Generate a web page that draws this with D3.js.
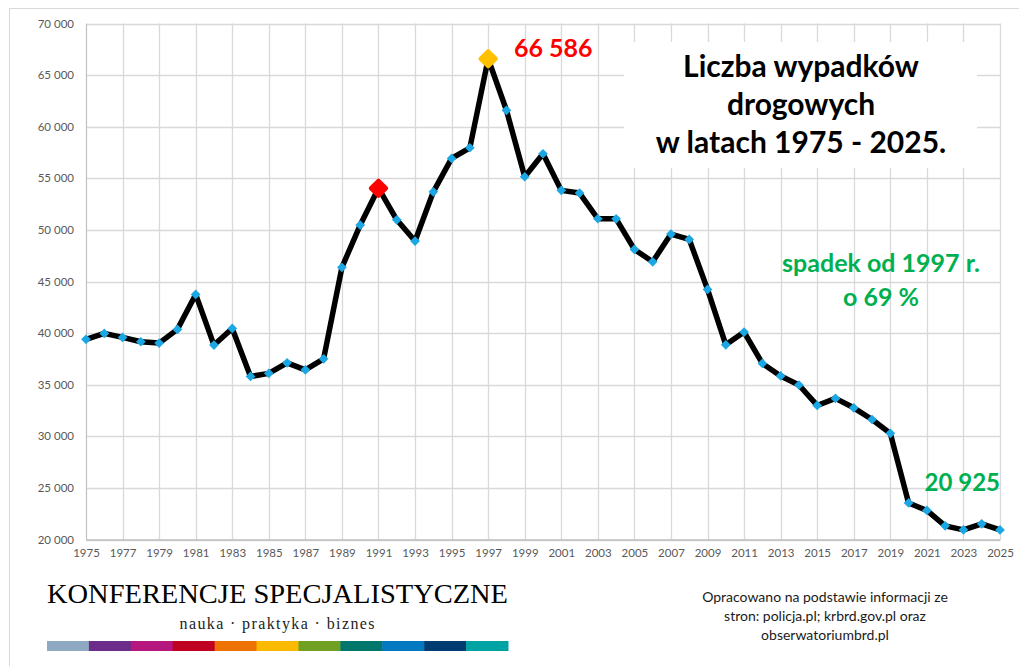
<!DOCTYPE html>
<html>
<head>
<meta charset="utf-8">
<script src="https://cdn.jsdelivr.net/npm/d3@7"></script>
<style>
  body { margin: 0; background: #fff; }
  svg { display: block; }
</style>
</head>
<body>
<div id="chart"></div>
<script>
// data
var years = [1975,1976,1977,1978,1979,1980,1981,1982,1983,1984,1985,1986,1987,1988,1989,1990,
  1991,1992,1993,1994,1995,1996,1997,1998,1999,2000,2001,2002,2003,2004,2005,2006,2007,2008,
  2009,2010,2011,2012,2013,2014,2015,2016,2017,2018,2019,2020,2021,2022,2023,2024,2025];
var accidents = [39400,39970,39580,39160,39030,40360,43750,38840,40450,35800,36100,37120,36440,37510,46370,50470,
  54038,50980,48920,53690,56930,57960,66586,61590,55150,57380,53830,53570,51080,51069,48110,46910,49600,49080,
  44235,38865,40100,37060,35850,34970,32990,33670,32760,31630,30288,23540,22816,21322,20936,21519,20925];
var yTicks = [20000,25000,30000,35000,40000,45000,50000,55000,60000,65000,70000];
var xTicks = d3.range(1975, 2026, 2);
var highlight = {1991: "#FF0000", 1997: "#FFC000"};
var titleLines = ["Liczba wypadków", "drogowych", "w latach 1975 - 2025."];
var noteLines = ["spadek od 1997 r.", "o 69 %"];
var sourceLines = ["Opracowano na podstawie informacji ze", "stron: policja.pl; krbrd.gov.pl oraz", "obserwatoriumbrd.pl"];
var logoColours = ["#8EA9C1","#6B2C8A","#B5177E","#C00020","#EE7203","#FBB900","#6FA022","#00776A","#0079C1","#003C71","#00A3A3"];

var width = 1019, height = 666;
var font = "Lato, 'Open Sans', sans-serif";

var svg = d3.select("#chart").append("svg")
    .attr("width", width)
    .attr("height", height);

// chart area border
svg.append("rect")
    .attr("x", 9.5).attr("y", 8.5)
    .attr("width", width).attr("height", height)
    .attr("fill", "#fff")
    .attr("stroke", "#D9D9D9");

var x = d3.scaleLinear().domain([1975, 2025]).range([86, 1000]);
var y = d3.scaleLinear().domain([20000, 70000]).range([539.5, 23.5]);

var loc = d3.formatLocale({decimal: ",", thousands: " ", grouping: [3], currency: ["", " zł"]});
var fmt = loc.format(",d");

// gridlines
svg.append("g")
    .selectAll("line")
    .data(yTicks)
    .enter()
    .append("line")
    .attr("x1", x(1975)).attr("x2", x(2025))
    .attr("y1", function (d) { return Math.round(y(d)) + 0.5; })
    .attr("y2", function (d) { return Math.round(y(d)) + 0.5; })
    .attr("stroke", "#D9D9D9")
    .attr("stroke-width", 1.3);

svg.append("g")
    .selectAll("line")
    .data(xTicks)
    .enter()
    .append("line")
    .attr("x1", function (d) { return Math.round(x(d)) + 0.5; })
    .attr("x2", function (d) { return Math.round(x(d)) + 0.5; })
    .attr("y1", y(70000)).attr("y2", y(20000))
    .attr("stroke", "#D9D9D9")
    .attr("stroke-width", 1.3);

// axes
var yAxis = svg.append("g")
    .attr("transform", "translate(" + x(1975) + ",0)")
    .call(d3.axisLeft(y).tickValues(yTicks).tickFormat(fmt).tickSize(0).tickPadding(12));
yAxis.select(".domain").attr("stroke", "#BFBFBF");
yAxis.selectAll("text")
    .style("font-family", font)
    .style("font-size", "11.5px")
    .attr("fill", "#595959");

var xAxis = svg.append("g")
    .attr("transform", "translate(0," + y(20000) + ")")
    .call(d3.axisBottom(x).tickValues(xTicks).tickFormat(d3.format("d")).tickSize(0).tickPadding(9));
xAxis.select(".domain").attr("stroke", "#BFBFBF").attr("stroke-width", 1.3);
xAxis.selectAll("text")
    .style("font-family", font)
    .style("font-size", "11.5px")
    .attr("fill", "#595959");

// title box
svg.append("rect")
    .attr("x", 624).attr("y", 42)
    .attr("width", 353).attr("height", 126)
    .attr("fill", "#fff");

svg.append("g")
    .selectAll("text")
    .data(titleLines)
    .enter()
    .append("text")
    .attr("x", 801)
    .attr("y", function (d, i) { return 77 + i * 38; })
    .attr("text-anchor", "middle")
    .style("font-family", font)
    .style("font-weight", "bold")
    .style("font-size", "30px")
    .attr("fill", "#000")
    .text(function (d) { return d; });

// line
var points = years.map(function (yr, i) { return [yr, accidents[i]]; });
var line = d3.line()
    .x(function (d) { return x(d[0]); })
    .y(function (d) { return y(d[1]); });

svg.append("path")
    .datum(points)
    .attr("d", line)
    .attr("fill", "none")
    .attr("stroke", "#000")
    .attr("stroke-width", 5.5)
    .attr("stroke-linejoin", "round");

var diamond = d3.symbol().type(d3.symbolDiamond2);
svg.append("g")
    .selectAll("path")
    .data(points)
    .enter()
    .append("path")
    .attr("transform", function (d) { return "translate(" + x(d[0]) + "," + y(d[1]) + ")"; })
    .attr("d", function (d) { return diamond.size(highlight[d[0]] ? 150 : 60)(); })
    .attr("fill", function (d) { return highlight[d[0]] || "#1BA7E3"; })
    .attr("stroke", function (d) { return highlight[d[0]] || "none"; })
    .attr("stroke-width", 4)
    .attr("stroke-linejoin", "round");

// annotations
svg.append("text")
    .attr("x", 514).attr("y", 57)
    .style("font-family", font)
    .style("font-weight", "bold")
    .style("font-size", "25px")
    .attr("fill", "#FF0000")
    .text(fmt(accidents[years.indexOf(1997)]));

svg.append("text")
    .attr("x", 1000).attr("y", 491)
    .attr("text-anchor", "end")
    .style("font-family", font)
    .style("font-weight", "bold")
    .style("font-size", "24px")
    .attr("fill", "#00B050")
    .text(fmt(accidents[years.indexOf(2025)]));

svg.append("g")
    .selectAll("text")
    .data(noteLines)
    .enter()
    .append("text")
    .attr("x", 881)
    .attr("y", function (d, i) { return 272 + i * 34; })
    .attr("text-anchor", "middle")
    .style("font-family", font)
    .style("font-weight", "bold")
    .style("font-size", "25px")
    .attr("fill", "#00B050")
    .text(function (d) { return d; });

// logo
svg.append("text")
    .attr("x", 47).attr("y", 603)
    .attr("textLength", 461)
    .attr("lengthAdjust", "spacingAndGlyphs")
    .style("font-family", "'Liberation Serif', 'DejaVu Serif', serif")
    .style("font-size", "28px")
    .attr("fill", "#000")
    .text("KONFERENCJE SPECJALISTYCZNE");

svg.append("text")
    .attr("x", 277).attr("y", 629)
    .attr("text-anchor", "middle")
    .attr("textLength", 195)
    .attr("lengthAdjust", "spacing")
    .style("font-family", "'Liberation Serif', 'DejaVu Serif', serif")
    .style("font-size", "16px")
    .attr("fill", "#222")
    .text("nauka · praktyka · biznes");

var bar = d3.scaleBand().domain(d3.range(logoColours.length)).range([47, 508]);
svg.append("g")
    .selectAll("rect")
    .data(logoColours)
    .enter()
    .append("rect")
    .attr("x", function (d, i) { return bar(i); })
    .attr("y", 641)
    .attr("width", bar.bandwidth() + 0.5)
    .attr("height", 10)
    .attr("fill", function (d) { return d; });

// source
svg.append("g")
    .selectAll("text")
    .data(sourceLines)
    .enter()
    .append("text")
    .attr("x", 825)
    .attr("y", function (d, i) { return 602 + i * 19; })
    .attr("text-anchor", "middle")
    .style("font-family", font)
    .style("font-size", "14px")
    .attr("fill", "#1a1a1a")
    .text(function (d) { return d; });
</script>
</body>
</html>
